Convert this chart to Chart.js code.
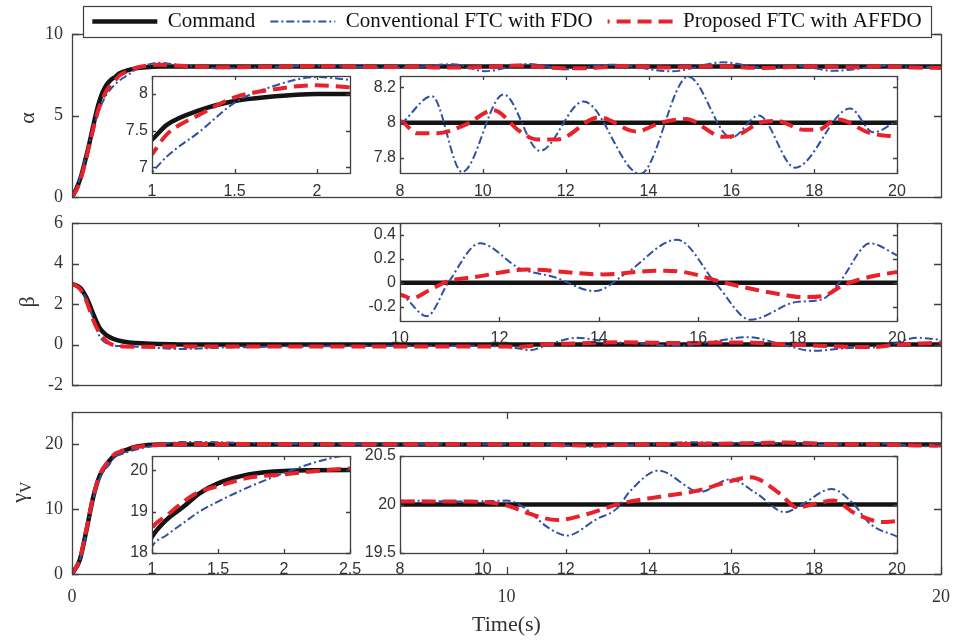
<!DOCTYPE html>
<html>
<head>
<meta charset="utf-8">
<title>Attitude tracking</title>
<script src="https://cdn.jsdelivr.net/npm/chart.js@4.4.1/dist/chart.umd.min.js"></script>
<style>
  html, body { margin: 0; padding: 0; background: #fff; overflow: hidden; }
  #wrap { position: relative; width: 955px; height: 642px; overflow: hidden; }
  #wrap canvas { position: absolute; }
</style>
</head>
<body>
<div id="wrap"></div>
<script>
// ---- data (time in s) ----
const seriesNames = ["Command", "Conventional FTC with FDO", "Proposed FTC with AFFDO"];

const alphaCmdT = [0, 0.1, 0.2, 0.3, 0.4, 0.5, 0.6, 0.7, 0.8, 0.9, 1.0, 1.09, 1.29, 1.5, 1.7, 2.0, 2.5, 20];
const alphaCmd  = [0, 0.5, 1.2, 2.2, 3.3, 4.5, 5.6, 6.4, 6.9, 7.2, 7.38, 7.58, 7.78, 7.905, 7.96, 8.0, 8.0, 8.0];
const alphaConvT = [0, 0.1, 0.2, 0.3, 0.4, 0.5, 0.6, 0.7, 0.8, 0.9, 1.0, 1.09, 1.29, 1.5, 1.7, 2.0, 2.2, 2.6, 3.4, 4.4,
  5.4, 6.4, 7.3, 8.0, 8.77, 9.5, 10.5, 11.38, 12.43, 13.8, 14.96, 16.0, 16.66, 17.54, 18.87, 19.43, 20];
const alphaConv  = [0, 0.5, 1.3, 2.3, 3.3, 4.3, 5.1, 5.8, 6.3, 6.65, 6.93, 7.15, 7.49, 7.88, 8.08, 8.23, 8.19, 8.06, 7.9, 7.94,
  8.04, 8.0, 7.93, 7.99, 8.15, 7.72, 8.16, 7.84, 8.12, 7.71, 8.26, 7.915, 8.04, 7.745, 8.08, 7.945, 8.01];
const alphaPropT = [0, 0.1, 0.2, 0.3, 0.4, 0.5, 0.6, 0.7, 0.8, 0.9, 1.0, 1.09, 1.29, 1.5, 1.7, 2.0, 2.2, 2.6, 3.5, 4.5,
  5.5, 6.5, 7.5, 8.0, 8.4, 8.9, 9.6, 10.25, 10.9, 11.3, 11.8, 12.8, 13.7, 14.3, 14.9, 15.8, 16.15, 16.7, 17.1, 17.75,
  18.1, 18.55, 19.36, 20];
const alphaProp  = [0, 0.4, 1.1, 2.1, 3.2, 4.3, 5.3, 6.0, 6.55, 6.9, 7.18, 7.45, 7.72, 7.955, 8.05, 8.12, 8.09, 8.03, 7.96, 7.98,
  8.03, 8.0, 7.97, 8.01, 7.94, 7.94, 7.99, 8.07, 7.95, 7.905, 7.905, 8.03, 7.95, 8.0, 8.02, 7.92, 7.93, 8.0, 8.01, 7.96,
  7.96, 8.02, 7.94, 7.92];

const betaCmdT = [0, 0.2, 0.34, 0.5, 0.64, 0.8, 0.95, 1.2, 1.5, 2.0, 2.5, 20];
const betaCmd  = [3, 2.78, 2.28, 1.45, 0.8, 0.45, 0.28, 0.14, 0.07, 0.02, 0, 0];
const betaConvT = [0, 0.2, 0.34, 0.5, 0.64, 0.8, 0.95, 1.2, 1.6, 2.5, 3.5, 5, 6.5, 8, 9.3, 10, 10.54, 10.97, 11.61, 12.41,
  13.08, 13.92, 14.55, 15.57, 16.38, 17.05, 17.99, 18.49, 18.85, 19.46, 20];
const betaConv  = [3, 2.72, 2.2, 1.2, 0.38, 0.05, -0.05, -0.08, -0.12, -0.22, -0.15, -0.1, -0.08, -0.08, -0.08, -0.1, -0.28, 0.0, 0.33, 0.12,
  0.05, -0.07, 0.08, 0.36, -0.02, -0.31, -0.16, -0.14, 0.01, 0.33, 0.23];
const betaPropT = [0, 0.2, 0.34, 0.5, 0.64, 0.8, 0.95, 1.2, 1.6, 2.5, 4, 6, 8, 9.5, 10, 10.23, 10.6, 10.94, 11.54, 12.55,
  14.09, 15.16, 15.7, 16.44, 17.18, 17.71, 18.11, 18.52, 18.92, 19.46, 20];
const betaProp  = [3.02, 2.7, 2.1, 1.15, 0.55, 0.15, -0.03, -0.1, -0.11, -0.1, -0.1, -0.1, -0.1, -0.1, -0.1, -0.13, -0.06, 0.01, 0.05, 0.11,
  0.07, 0.1, 0.09, 0.01, -0.06, -0.1, -0.12, -0.11, -0.02, 0.05, 0.09];

const gammaCmdT = [0, 0.18, 0.34, 0.49, 0.64, 0.87, 1.0, 1.11, 1.24, 1.36, 1.5, 1.74, 2.0, 2.5, 20];
const gammaCmd  = [0, 2.2, 7.0, 11.9, 15.2, 17.55, 18.39, 18.8, 19.12, 19.44, 19.68, 19.9, 19.98, 20.0, 20.0];
const gammaConvT = [0, 0.18, 0.34, 0.49, 0.64, 0.87, 1.0, 1.11, 1.24, 1.36, 1.5, 1.74, 2.0, 2.25, 2.5, 3, 4, 5, 6, 7,
  8, 9.7, 10.58, 10.99, 11.55, 12.03, 12.75, 13.24, 13.56, 14.24, 15.25, 15.97, 16.62, 17.3, 17.74, 18.42, 18.94, 19.35, 20];
const gammaConv  = [0, 2.1, 6.8, 11.6, 14.8, 17.0, 18.15, 18.43, 18.73, 19.0, 19.24, 19.6, 19.93, 20.2, 20.36, 20.38, 20.22, 20.1, 20.05, 20.03,
  20.04, 20.03, 20.04, 19.97, 19.77, 19.68, 19.85, 19.96, 20.14, 20.35, 20.13, 20.26, 20.11, 19.92, 20.01, 20.16, 20.01, 19.8, 19.67];
const gammaPropT = [0, 0.18, 0.34, 0.49, 0.64, 0.87, 1.0, 1.11, 1.24, 1.36, 1.5, 1.74, 2.0, 2.25, 2.5, 3, 4, 5, 6, 7,
  8, 9.7, 10.58, 11.16, 11.8, 12.51, 13.32, 14.28, 15.16, 15.89, 16.46, 17.18, 17.58, 18.06, 18.46, 19.02, 19.66, 20];
const gammaProp  = [0, 2.3, 7.2, 12.0, 15.3, 17.7, 18.6, 18.9, 19.24, 19.48, 19.61, 19.82, 19.9, 19.98, 20.04, 20.08, 20.06, 20.04, 20.03, 20.03,
  20.03, 20.03, 19.99, 19.9, 19.84, 19.9, 20.01, 20.08, 20.14, 20.23, 20.28, 20.11, 19.97, 20.01, 20.04, 19.9, 19.82, 19.83];

// tick labels
const timeTicks = [0, 10, 20];
const alphaTicks = [0, 5, 10];
const betaTicks = [-2, 0, 2, 4, 6];
const gammaTicks = [0, 10, 20];
const alphaZoom1X = [1, 1.5, 2];
const alphaZoom1Y = [7, 7.5, 8];
const alphaZoom2X = [8, 10, 12, 14, 16, 18, 20];
const alphaZoom2Y = [7.8, 8, 8.2];
const betaZoomX = [10, 12, 14, 16, 18, 20];
const betaZoomY = [-0.2, 0, 0.2, 0.4];
const gammaZoom1X = [1, 1.5, 2, 2.5];
const gammaZoom1Y = [18, 19, 20];
const gammaZoom2X = [8, 10, 12, 14, 16, 18, 20];
const gammaZoom2Y = [19.5, 20, 20.5];

// ---- styling ----
const SERIF = "'Liberation Serif', 'Times New Roman', serif";
const SANS = "'Liberation Sans', Arial, Helvetica, sans-serif";
const AXIS = "#404040";
const TEXT = "#333333";
const BLACK = "#141414";
const BLUE = "#2f50a4";
const RED = "#e8212b";
Chart.defaults.font.family = SANS;

const wrap = document.getElementById("wrap");

function addCanvas(w, h, left, top) {
  const c = document.createElement("canvas");
  c.width = w;
  c.height = h;
  c.style.width = w + "px";
  c.style.height = h + "px";
  c.style.left = left + "px";
  c.style.top = top + "px";
  wrap.appendChild(c);
  return c;
}

function pts(t, v) {
  return t.map((x, i) => ({ x: x, y: v[i] }));
}

function lineSets(cmd, conv, prop) {
  const base = { pointRadius: 0, cubicInterpolationMode: "monotone", fill: false, clip: 0 };
  return [
    Object.assign({}, base, { label: seriesNames[0], data: cmd, borderColor: BLACK, borderWidth: 4.5, order: 3 }),
    Object.assign({}, base, { label: seriesNames[1], data: conv, borderColor: BLUE, borderWidth: 2, borderDash: [8, 3, 2, 3], order: 2 }),
    Object.assign({}, base, { label: seriesNames[2], data: prop, borderColor: RED, borderWidth: 4, borderDash: [14, 7], order: 1 }),
  ];
}

// box frame + inward tick marks (MATLAB style)
const framePlugin = {
  id: "frame",
  beforeDraw(chart, args, opts) {
    if (!opts.fill) return;
    const a = chart.chartArea;
    const ctx = chart.ctx;
    ctx.save();
    ctx.fillStyle = opts.fill;
    ctx.fillRect(a.left, a.top, a.right - a.left, a.bottom - a.top);
    ctx.restore();
  },
  afterDraw(chart, args, opts) {
    const { ctx, chartArea: a, scales } = chart;
    const len = opts.len || 6;
    ctx.save();
    ctx.strokeStyle = AXIS;
    ctx.lineWidth = 1.3;
    ctx.beginPath();
    if (opts.xTicks) {
      scales.x.ticks.forEach((t) => {
        const px = Math.round(scales.x.getPixelForValue(t.value)) + 0.5;
        ctx.moveTo(px, a.bottom); ctx.lineTo(px, a.bottom - len);
        ctx.moveTo(px, a.top); ctx.lineTo(px, a.top + len);
      });
    }
    scales.y.ticks.forEach((t) => {
      const py = Math.round(scales.y.getPixelForValue(t.value)) + 0.5;
      ctx.moveTo(a.left, py); ctx.lineTo(a.left + len, py);
      ctx.moveTo(a.right, py); ctx.lineTo(a.right - len, py);
    });
    ctx.stroke();
    ctx.strokeRect(a.left + 0.5, a.top + 0.5, a.right - a.left, a.bottom - a.top);
    ctx.restore();
  },
};

// rotated y label, with optional subscript
const ylabPlugin = {
  id: "ylab",
  afterDraw(chart, args, o) {
    if (!o || !o.text) return;
    const ctx = chart.ctx;
    const big = o.size + "px " + SERIF;
    const small = Math.round(o.size * 0.72) + "px " + SERIF;
    ctx.save();
    ctx.translate(o.x, o.y);
    ctx.rotate(-Math.PI / 2);
    ctx.fillStyle = TEXT;
    ctx.textBaseline = "middle";
    ctx.textAlign = "left";
    ctx.font = big;
    const w1 = ctx.measureText(o.text).width;
    let w2 = 0;
    if (o.sub) { ctx.font = small; w2 = ctx.measureText(o.sub).width; }
    const start = -(w1 + w2) / 2;
    ctx.font = big;
    ctx.fillText(o.text, start, 0);
    if (o.sub) { ctx.font = small; ctx.fillText(o.sub, start + w1, o.size * 0.3); }
    ctx.restore();
  },
};

function fixedTicks(vals) {
  return (scale) => { scale.ticks = vals.map((v) => ({ value: v })); };
}

// pin the axis box: fixed size, no extra room for edge labels
function fixSize(prop, size) {
  return (s) => {
    s[prop] = size;
    s.paddingLeft = 0;
    s.paddingRight = 0;
    s.paddingTop = 0;
    s.paddingBottom = 0;
  };
}

function plot(p) {
  const inset = !!p.inset;
  const yw = inset ? 44 : 72;
  const xh = p.xTicks ? (inset ? 30 : 64) : 0;
  const canvas = addCanvas(955, 642, 0, 0);
  const tickFont = inset ? { family: SANS, size: 16 } : { family: SERIF, size: 18 };
  return new Chart(canvas, {
    type: "line",
    data: { datasets: p.sets },
    options: {
      responsive: false,
      animation: false,
      devicePixelRatio: 1,
      events: [],
      layout: { padding: { left: p.box.l - yw, top: p.box.t, right: 955 - p.box.r, bottom: 642 - p.box.b - xh } },
      plugins: {
        legend: { display: false },
        tooltip: { enabled: false },
        frame: { fill: inset ? "#ffffff" : null, len: inset ? 4 : 7, xTicks: !!p.xTicks },
        ylab: p.ylab || {},
      },
      scales: {
        x: {
          type: "linear",
          display: !!p.xTicks,
          min: p.x[0],
          max: p.x[1],
          afterBuildTicks: fixedTicks(p.xTicks || []),
          afterFit: fixSize("height", xh),
          grid: { display: false, drawTicks: false },
          border: { display: false },
          ticks: {
            autoSkip: false, maxRotation: 0, font: tickFont, color: TEXT,
            padding: inset ? (p.labelPad || 8) : 12,
            callback: (v) => String(v),
          },
          title: p.xTitle
            ? { display: true, text: p.xTitle, color: TEXT, font: { family: SERIF, size: 22 }, padding: 0 }
            : { display: false },
        },
        y: {
          type: "linear",
          min: p.y[0],
          max: p.y[1],
          afterBuildTicks: fixedTicks(p.yTicks),
          afterFit: fixSize("width", yw),
          grid: { display: false, drawTicks: false },
          border: { display: false },
          ticks: {
            autoSkip: false, font: tickFont, color: TEXT,
            padding: inset ? 4 : 9,
            callback: (v) => String(v),
          },
        },
      },
    },
    plugins: [framePlugin, ylabPlugin],
  });
}

const alphaSets = () => lineSets(pts(alphaCmdT, alphaCmd), pts(alphaConvT, alphaConv), pts(alphaPropT, alphaProp));
const betaSets = () => lineSets(pts(betaCmdT, betaCmd), pts(betaConvT, betaConv), pts(betaPropT, betaProp));
const gammaSets = () => lineSets(pts(gammaCmdT, gammaCmd), pts(gammaConvT, gammaConv), pts(gammaPropT, gammaProp));

// main axes
plot({ box: { l: 72, t: 34, r: 941, b: 197 }, x: [0, 20], y: [0, 10], yTicks: alphaTicks, sets: alphaSets(),
  ylab: { text: "\u03b1", x: 28, y: 118, size: 22 } });
plot({ box: { l: 72, t: 223, r: 941, b: 385 }, x: [0, 20], y: [-2, 6], yTicks: betaTicks, sets: betaSets(),
  ylab: { text: "\u03b2", x: 28, y: 302, size: 22 } });
plot({ box: { l: 72, t: 412, r: 941, b: 574 }, x: [0, 20], y: [0, 25], xTicks: timeTicks, yTicks: gammaTicks,
  sets: gammaSets(), xTitle: "Time(s)", ylab: { text: "\u03b3", sub: "V", x: 20, y: 492, size: 22 } });

// insets
plot({ inset: true, box: { l: 152, t: 76, r: 350, b: 173 }, x: [1, 2.2], y: [6.925, 8.245],
  xTicks: alphaZoom1X, yTicks: alphaZoom1Y, sets: alphaSets(), labelPad: 9 });
plot({ inset: true, box: { l: 400, t: 76, r: 897, b: 173 }, x: [8, 20], y: [7.715, 8.264],
  xTicks: alphaZoom2X, yTicks: alphaZoom2Y, sets: alphaSets(), labelPad: 9 });
plot({ inset: true, box: { l: 400, t: 223, r: 897, b: 321 }, x: [10, 20], y: [-0.32, 0.5],
  xTicks: betaZoomX, yTicks: betaZoomY, sets: betaSets(), labelPad: 8 });
plot({ inset: true, box: { l: 152, t: 456, r: 350, b: 553 }, x: [1, 2.5], y: [18, 20.34],
  xTicks: gammaZoom1X, yTicks: gammaZoom1Y, sets: gammaSets(), labelPad: 7 });
plot({ inset: true, box: { l: 400, t: 456, r: 897, b: 553 }, x: [8, 20], y: [19.5, 20.5],
  xTicks: gammaZoom2X, yTicks: gammaZoom2Y, sets: gammaSets(), labelPad: 7 });

// legend (own canvas, laid over the top axes)
const legendFrame = {
  id: "legendFrame",
  beforeDraw(chart) {
    const ctx = chart.ctx;
    ctx.save();
    ctx.fillStyle = "#ffffff";
    ctx.fillRect(83, 10, 848, 31);
    ctx.strokeStyle = AXIS;
    ctx.lineWidth = 1.2;
    ctx.strokeRect(83.5, 10.5, 848, 31);
    ctx.restore();
  },
};

new Chart(addCanvas(1014, 130, 0, -4), {
  type: "line",
  data: { datasets: lineSets([], [], []) },
  options: {
    responsive: false,
    animation: false,
    devicePixelRatio: 1,
    events: [],
    layout: { padding: 0 },
    scales: { x: { display: false }, y: { display: false } },
    plugins: {
      tooltip: { enabled: false },
      legend: {
        display: true,
        position: "top",
        labels: {
          usePointStyle: true,
          pointStyle: "line",
          pointStyleWidth: 65,
          padding: 15,
          color: "#111111",
          font: { family: SERIF, size: 21 },
          generateLabels: (chart) => chart.data.datasets.map((d, i) => ({
            text: d.label,
            fillStyle: "rgba(0,0,0,0)",
            strokeStyle: d.borderColor,
            lineWidth: d.borderWidth,
            lineDash: d.borderDash || [],
            lineDashOffset: i === 2 ? 12 : 0,
            lineCap: "butt",
            pointStyle: "line",
            rotation: 0,
            hidden: false,
            fontColor: "#111111",
            datasetIndex: i,
          })),
        },
      },
    },
  },
  plugins: [legendFrame],
});
</script>
</body>
</html>
